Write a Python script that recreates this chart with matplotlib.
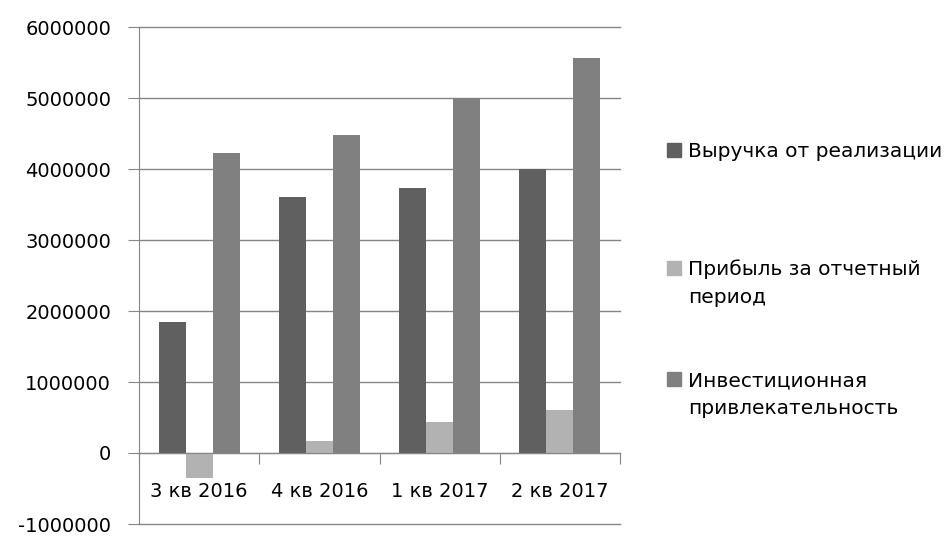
import matplotlib
matplotlib.use('Agg')
import matplotlib.pyplot as plt
import numpy as np
from matplotlib.patches import Rectangle

# Data
quarters = ['3 кв 2016', '4 кв 2016', '1 кв 2017', '2 кв 2017']
revenue = [1840000, 3600000, 3730000, 4000000]
profit = [-350000, 170000, 440000, 600000]
invest = [4220000, 4480000, 5000000, 5570000]
series_names = ['Выручка от реализации', 'Прибыль за отчетный\nпериод',
                'Инвестиционная\nпривлекательность']
series_colors = ['#606060', '#b2b2b2', '#808080']

plt.rcParams['font.family'] = ['DejaVu Sans']

fig = plt.figure(figsize=(9.48, 5.36), dpi=100)
ax = fig.add_axes([139 / 948, 1 - 524 / 536, (620 - 139) / 948, 497 / 536])

x = np.arange(len(quarters))
w = 0.224
for i, (vals, color) in enumerate(zip([revenue, profit, invest], series_colors)):
    ax.bar(x + (i - 1) * w, vals, width=w, color=color, zorder=3)

ax.set_xlim(-0.5, len(quarters) - 0.5)
ax.set_ylim(-1000000, 6000000)
ax.set_yticks(range(-1000000, 6000001, 1000000))
ax.yaxis.set_major_formatter(plt.FuncFormatter(lambda v, p: f'{int(v)}'))
ax.grid(True, axis='y', color='#868686', linewidth=1.0, zorder=0)
for line in ax.get_ygridlines():
    line.set_clip_on(False)

for side in ['top', 'right']:
    ax.spines[side].set_visible(False)
ax.spines['left'].set_color('#868686')
ax.spines['bottom'].set_color('#868686')
ax.spines['bottom'].set_position(('data', 0))
ax.spines['bottom'].set_zorder(4)

# category boundaries as major ticks, labels on minor ticks
ax.set_xticks(np.arange(-0.5, len(quarters), 1.0))
ax.set_xticklabels([])
ax.set_xticks(x, minor=True)
ax.set_xticklabels(quarters, minor=True, fontsize=14)
ax.tick_params(axis='x', which='major', direction='out', length=8,
               color='#868686')
ax.tick_params(axis='x', which='minor', length=0, pad=21)
ax.tick_params(axis='y', direction='out', length=8, color='#868686',
               labelsize=14, pad=12)

# legend drawn on the figure: square + text lines (first line centred on square)
legend_y = [150, 268, 379]
line_gap = 28
for name, color, ly in zip(series_names, series_colors, legend_y):
    fig.patches.append(Rectangle((667 / 948, 1 - (ly + 7) / 536), 14 / 948, 14 / 536,
                                 transform=fig.transFigure, color=color))
    for k, part in enumerate(name.split('\n')):
        fig.text(688 / 948, 1 - (ly + 7 + k * line_gap) / 536, part,
                 fontsize=14.5, va='baseline', ha='left',
                 transform=fig.transFigure)

fig.savefig('out.png', dpi=100, facecolor='white')
